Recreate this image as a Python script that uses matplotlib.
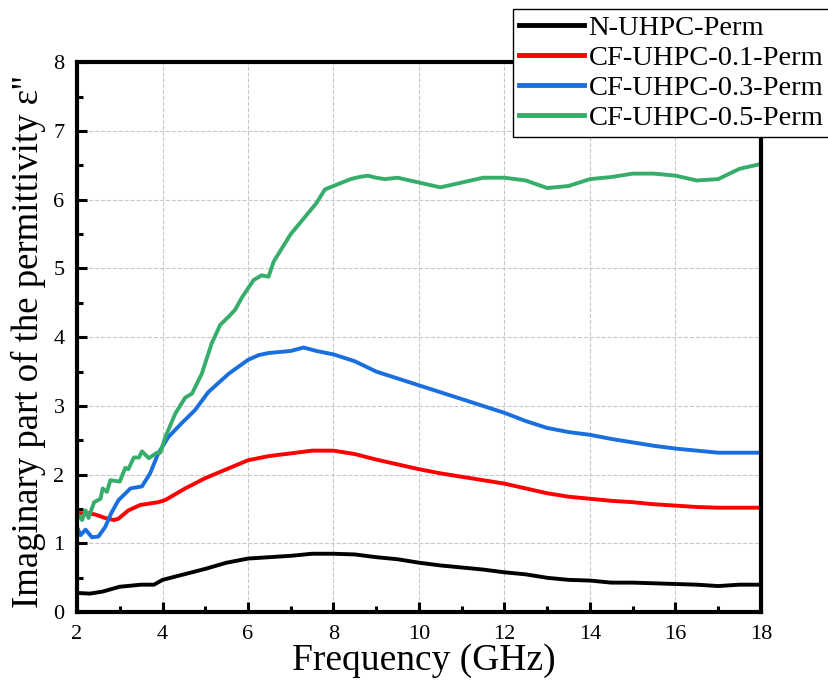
import matplotlib
matplotlib.use("Agg")
import matplotlib.pyplot as plt
from matplotlib.ticker import MultipleLocator

plt.rcParams["font.family"] = ["Liberation Serif", "DejaVu Serif"]

# N-UHPC-Perm
freq_n = [2.0, 2.3, 2.6, 3.0, 3.5, 3.8, 4.0, 4.5, 5.0, 5.5, 6.0, 6.5, 7.0, 7.5, 8.0,
          8.5, 9.0, 9.5, 10.0, 10.5, 11.0, 11.5, 12.0, 12.5, 13.0, 13.5, 14.0, 14.5,
          15.0, 15.5, 16.0, 16.5, 17.0, 17.5, 18.0]
eps_n = [0.28, 0.27, 0.30, 0.37, 0.40, 0.40, 0.47, 0.55, 0.63, 0.72, 0.78, 0.80, 0.82,
         0.85, 0.85, 0.84, 0.80, 0.77, 0.72, 0.68, 0.65, 0.62, 0.58, 0.55, 0.50, 0.47,
         0.46, 0.43, 0.43, 0.42, 0.41, 0.40, 0.38, 0.40, 0.40]

# CF-UHPC-0.1-Perm
freq_01 = [2.0, 2.27, 2.43, 2.66, 2.86, 2.97, 3.2, 3.48, 3.9, 4.06, 4.53, 5.0, 5.46,
           6.0, 6.48, 7.0, 7.5, 8.0, 8.5, 9.0, 9.5, 10.0, 10.5, 11.0, 11.5, 12.0, 12.5,
           13.0, 13.5, 14.0, 14.5, 15.0, 15.5, 16.0, 16.5, 17.0, 17.5, 18.0]
eps_01 = [1.44, 1.44, 1.42, 1.37, 1.34, 1.36, 1.48, 1.56, 1.60, 1.63, 1.80, 1.95, 2.07,
          2.21, 2.27, 2.31, 2.35, 2.35, 2.30, 2.22, 2.15, 2.08, 2.02, 1.97, 1.92, 1.87,
          1.80, 1.73, 1.68, 1.65, 1.62, 1.60, 1.57, 1.55, 1.53, 1.52, 1.52, 1.52]

# CF-UHPC-0.3-Perm
freq_03 = [2.0, 2.08, 2.2, 2.35, 2.5, 2.66, 2.8, 2.97, 3.25, 3.52, 3.71, 3.9, 4.14,
           4.45, 4.76, 5.07, 5.55, 6.0, 6.25, 6.48, 7.0, 7.3, 7.6, 8.0, 8.5, 9.0, 9.5,
           10.0, 10.5, 11.0, 11.5, 12.0, 12.5, 13.0, 13.5, 14.0, 14.5, 15.0, 15.5,
           16.0, 16.5, 17.0, 17.5, 18.0]
eps_03 = [1.24, 1.12, 1.20, 1.09, 1.10, 1.24, 1.44, 1.63, 1.80, 1.83, 2.02, 2.31, 2.55,
          2.75, 2.94, 3.20, 3.47, 3.67, 3.74, 3.77, 3.80, 3.85, 3.80, 3.75, 3.65, 3.50,
          3.40, 3.30, 3.20, 3.10, 3.00, 2.90, 2.78, 2.68, 2.62, 2.58, 2.52, 2.47, 2.42,
          2.38, 2.35, 2.32, 2.32, 2.32]

# CF-UHPC-0.5-Perm
freq_05 = [2.0, 2.12, 2.2, 2.27, 2.4, 2.55, 2.6, 2.7, 2.78, 3.0, 3.13, 3.2, 3.33, 3.45,
           3.52, 3.68, 3.87, 3.95, 4.06, 4.3, 4.53, 4.69, 4.92, 5.15, 5.35, 5.55, 5.7,
           5.86, 6.13, 6.32, 6.48, 6.6, 6.8, 7.0, 7.2, 7.4, 7.6, 7.8, 8.0, 8.2, 8.4,
           8.6, 8.8, 9.0, 9.2, 9.5, 10.0, 10.5, 11.0, 11.5, 12.0, 12.5, 13.0, 13.5,
           14.0, 14.5, 15.0, 15.5, 16.0, 16.5, 17.0, 17.5, 18.0]
eps_05 = [1.44, 1.34, 1.48, 1.37, 1.60, 1.65, 1.80, 1.75, 1.92, 1.90, 2.10, 2.08, 2.25,
          2.25, 2.34, 2.24, 2.32, 2.32, 2.54, 2.89, 3.12, 3.18, 3.47, 3.91, 4.18, 4.30,
          4.40, 4.58, 4.83, 4.90, 4.88, 5.10, 5.30, 5.50, 5.65, 5.80, 5.95, 6.15, 6.20,
          6.25, 6.30, 6.33, 6.35, 6.32, 6.30, 6.32, 6.25, 6.18, 6.25, 6.32, 6.32, 6.28,
          6.17, 6.20, 6.30, 6.33, 6.38, 6.38, 6.35, 6.28, 6.30, 6.45, 6.52]

series = [
    ("N-UHPC-Perm", freq_n, eps_n, "#000000"),
    ("CF-UHPC-0.1-Perm", freq_01, eps_01, "#ff0000"),
    ("CF-UHPC-0.3-Perm", freq_03, eps_03, "#1a6fdf"),
    ("CF-UHPC-0.5-Perm", freq_05, eps_05, "#37ad6b"),
]


def main() -> None:
    fig = plt.figure(figsize=(8.29, 6.84), dpi=100)
    ax = fig.add_axes([0.0929, 0.105, 0.825, 0.804])

    for label, x, y, color in series:
        ax.plot(x, y, color=color, linewidth=2.8, label=label)

    ax.set_xlim(2, 18)
    ax.set_ylim(0, 8)
    ax.xaxis.set_major_locator(MultipleLocator(2))
    ax.xaxis.set_minor_locator(MultipleLocator(1))
    ax.yaxis.set_major_locator(MultipleLocator(1))
    ax.yaxis.set_minor_locator(MultipleLocator(0.5))
    ax.tick_params(which="major", direction="in", length=7, width=2.2, labelsize=16)
    ax.tick_params(which="minor", direction="in", length=4, width=2.2)
    ax.tick_params(axis="x", which="major", pad=9)
    ax.tick_params(axis="y", which="major", pad=9)
    ax.grid(True, which="major", color="#c8c8c8", linestyle="--", linewidth=0.8)
    for spine in ax.spines.values():
        spine.set_linewidth(3)

    ax.set_xlabel("Frequency (GHz)", fontsize=27)
    ax.xaxis.set_label_coords(0.507, -0.057)
    ax.set_ylabel("Imaginary part of the permittivity ε''", fontsize=26.5)
    ax.yaxis.set_label_coords(-0.045, 0.491)

    leg = fig.legend(
        loc="upper left",
        bbox_to_anchor=(0.619, 0.987),
        fontsize=20.5,
        frameon=True,
        fancybox=False,
        edgecolor="black",
        framealpha=1,
        handlelength=2.3,
        handletextpad=0.15,
        borderpad=0.2,
        borderaxespad=0,
        labelspacing=0.15,
    )
    leg.get_frame().set_linewidth(1.0)
    for line in leg.get_lines():
        line.set_linewidth(3.5)

    fig.savefig("out.png", dpi=100)
    plt.close(fig)


if __name__ == "__main__":
    main()
